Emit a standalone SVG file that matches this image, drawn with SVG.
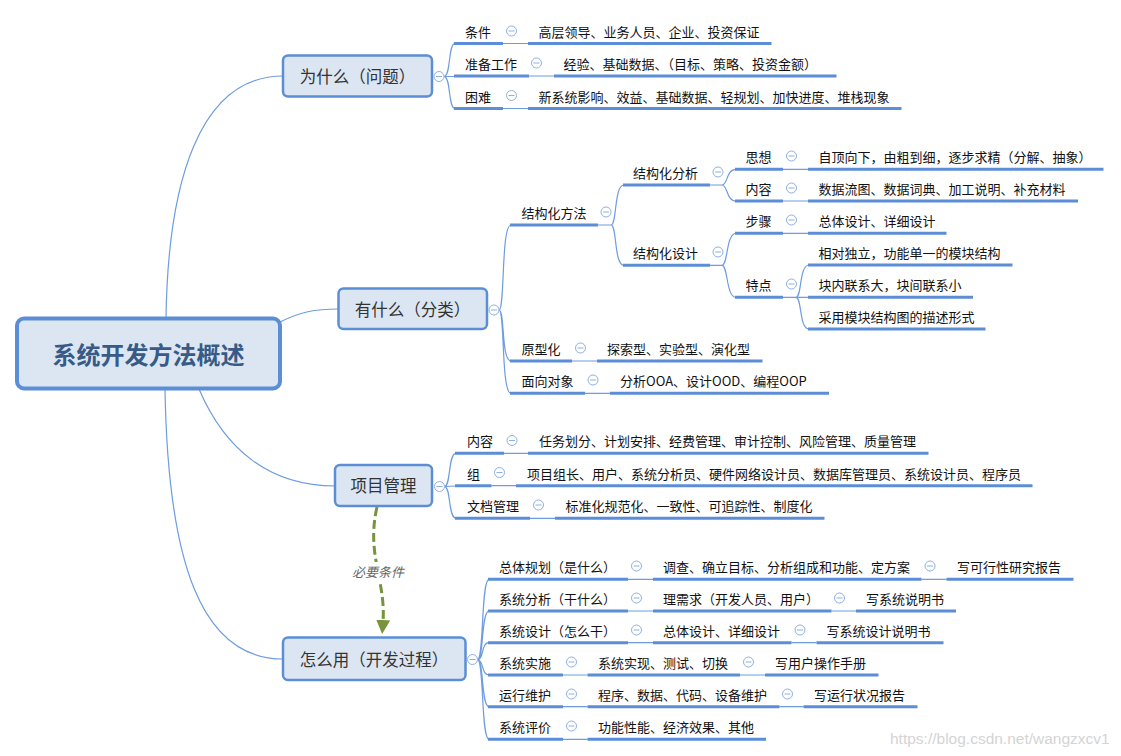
<svg xmlns="http://www.w3.org/2000/svg" width="1121" height="756" viewBox="0 0 1121 756">
<style>
.ul{stroke:#5b8ed6;stroke-width:3;fill:none}
.cn{stroke:#6d9ce0;stroke-width:1.2;fill:none}
text{font-family:"Noto Sans CJK SC","Noto Sans",sans-serif;dominant-baseline:central}
.t{font-size:13px;fill:#111}
.l1 rect{fill:#dce6f2;stroke:#5b8ed6;stroke-width:2.5}
.l1 text{font-size:16.5px;fill:#333;text-anchor:middle}
text.wm{font-family:"Liberation Sans",Arial,sans-serif;font-size:15.5px;fill:#d4d4d4}
</style>
<defs>
<g id="m"><circle r="5" fill="#fff" stroke="#8fb0e0" stroke-width="1"/><path d="M-3,0H3" stroke="#8fb0e0" stroke-width="1"/></g>
<marker id="ah" viewBox="0 0 14 14" refX="2" refY="7" markerWidth="14" markerHeight="14" markerUnits="userSpaceOnUse" orient="auto"><path d="M0,0L14,7L0,14z" fill="#77933c"/></marker>
<mask id="lm" maskUnits="userSpaceOnUse" x="0" y="0" width="1121" height="756"><rect width="1121" height="756" fill="#fff"/><rect x="345" y="562" width="66" height="20" fill="#000"/></mask>
</defs>
<rect width="1121" height="756" fill="#fff"/>
<g id="connectors">
<path class="cn" d="M166,318 C168,180 200,76 283,76"/>
<path class="cn" d="M280,322 C300,312 315,309 338,309"/>
<path class="cn" d="M199,389 C225,450 270,486 335,486"/>
<path class="cn" d="M165,390 C168,560 200,659 283,659"/>
<path class="cn" d="M444,76.5 C451,76.5 448,43.5 455,43.5 M444,76.5 L455,76.5 M444,76.5 C451,76.5 448,108.5 455,108.5"/>
<path class="cn" d="M503,43.5H528 M529,76H554 M503,108.5H528"/>
<path class="cn" d="M499,310 C505,310 501,225 511,225 M499,310 C505,310 501,361 511,361 M499,310 C505,310 501,393.3 511,393.3"/>
<path class="cn" d="M598,225H611 C617,225 614,185 624,185 M611,225 C617,225 614,265.3 624,265.3"/>
<path class="cn" d="M710,185H722 C728,185 726,169.3 736,169.3 M722,185 C728,185 726,201 736,201"/>
<path class="cn" d="M710,265.3H722 C728,265.3 726,233.3 736,233.3 M722,265.3 C728,265.3 726,297.3 736,297.3"/>
<path class="cn" d="M783,169.3H808 M783,201H808 M783,233.3H808"/>
<path class="cn" d="M783,297.3H809 M796,297.3 C802,297.3 799,265 809,265 M796,297.3 C802,297.3 799,329 809,329"/>
<path class="cn" d="M572,361H597 M585,393.3H610"/>
<path class="cn" d="M444.5,486.5 C451,486.5 448,453.3 456,453.3 M444.5,486.5 L456,486 M444.5,486.5 C451,486.5 448,518.3 456,518.3"/>
<path class="cn" d="M504,453.3H528 M491.5,485.7H516 M530,518.3H555"/>
<path class="cn" d="M477.5,659.5 C484,659.5 481,579.3 489,579.3 M477.5,659.5 C484,659.5 481,611 489,611 M477.5,659.5 C484,659.5 481,642.7 489,642.7 M477.5,659.5 C484,659.5 481,675 489,675 M477.5,659.5 C484,659.5 481,706.7 489,706.7 M477.5,659.5 C484,659.5 481,739.3 489,739.3"/>
<path class="cn" d="M628,579.3H653 M921.5,579.3H946.5 M628,611H653 M831.5,611H856 M628,642.7H653 M791.5,642.7H816.5 M563,675H587.5 M740,675H765 M563,706.7H587.5 M779.5,706.7H803.5 M563,739.3H587.5"/>
<path d="M377,507 C366,555 386,580 383,622" fill="none" stroke="#77933c" stroke-width="3" stroke-dasharray="9 4" mask="url(#lm)" marker-end="url(#ah)"/>
<text x="378" y="571.5" font-size="13" font-style="italic" fill="#666" text-anchor="middle">必要条件</text>
</g>
<g id="root"><rect x="17" y="318.5" width="263" height="70" rx="7" fill="#dce6f2" stroke="#5b8ed6" stroke-width="4"/><text x="148.5" y="353.5" font-size="24" font-weight="bold" fill="#375a87" text-anchor="middle">系统开发方法概述</text></g>
<g id="n-why" class="l1"><rect x="283" y="55.5" width="149" height="41" rx="5"/><text x="357.5" y="75.5">为什么（问题）</text><use href="#m" x="439" y="76.5"/></g>
<g id="n-what" class="l1"><rect x="338.5" y="288.5" width="148.5" height="40.5" rx="5"/><text x="412.5" y="308.5">有什么（分类）</text><use href="#m" x="494" y="310"/></g>
<g id="n-pm" class="l1"><rect x="335" y="465" width="97" height="41" rx="5"/><text x="383.5" y="485">项目管理</text><use href="#m" x="439.5" y="486.5"/></g>
<g id="n-how" class="l1"><rect x="283" y="637.5" width="182.5" height="42.5" rx="5"/><text x="374" y="658.5">怎么用（开发过程）</text><use href="#m" x="472.5" y="659.5"/></g>

<g id="n1a"><path class="ul" d="M454,43.5H503"/><text class="t" x="465" y="31">条件</text><use href="#m" x="511.5" y="31"/></g>
<g id="n1a1"><path class="ul" d="M528,43.5H771.5"/><text class="t" x="538.5" y="31">高层领导、业务人员、企业、投资保证</text></g>
<g id="n1b"><path class="ul" d="M454,76H529"/><text class="t" x="465" y="63.5">准备工作</text><use href="#m" x="536.5" y="63"/></g>
<g id="n1b1"><path class="ul" d="M554,76H836.5"/><text class="t" x="563.5" y="63.5">经验、基础数据、（目标、策略、投资金额）</text></g>
<g id="n1c"><path class="ul" d="M454,108.5H503"/><text class="t" x="465" y="96">困难</text><use href="#m" x="511.5" y="95.5"/></g>
<g id="n1c1"><path class="ul" d="M528,108.5H901.5"/><text class="t" x="538.5" y="96">新系统影响、效益、基础数据、轻规划、加快进度、堆栈现象</text></g>

<g id="n2a"><path class="ul" d="M510,225H598"/><text class="t" x="521.5" y="212.5">结构化方法</text><use href="#m" x="606" y="212"/></g>
<g id="n2a1"><path class="ul" d="M623,185H710"/><text class="t" x="633" y="172.5">结构化分析</text><use href="#m" x="718" y="172"/></g>
<g id="n2a1a"><path class="ul" d="M735,169.3H783"/><text class="t" x="745.5" y="156.5">思想</text><use href="#m" x="791.5" y="156"/></g>
<g id="n2a1a1"><path class="ul" d="M808,169.3H1103.5"/><text class="t" x="818.5" y="156.5">自顶向下，由粗到细，逐步求精（分解、抽象）</text></g>
<g id="n2a1b"><path class="ul" d="M735,201H783"/><text class="t" x="745.5" y="188.5">内容</text><use href="#m" x="791.5" y="188"/></g>
<g id="n2a1b1"><path class="ul" d="M808,201H1078"/><text class="t" x="818.5" y="188.5">数据流图、数据词典、加工说明、补充材料</text></g>
<g id="n2a2"><path class="ul" d="M623,265.3H710"/><text class="t" x="633" y="252.5">结构化设计</text><use href="#m" x="718" y="252"/></g>
<g id="n2a2a"><path class="ul" d="M735,233.3H783"/><text class="t" x="745.5" y="220.5">步骤</text><use href="#m" x="791.5" y="220"/></g>
<g id="n2a2a1"><path class="ul" d="M808,233.3H946.5"/><text class="t" x="818.5" y="220.5">总体设计、详细设计</text></g>
<g id="n2a2b"><path class="ul" d="M735,297.3H783"/><text class="t" x="745.5" y="284.5">特点</text><use href="#m" x="791.5" y="284"/></g>
<g id="n2a2b1"><path class="ul" d="M808,265H1012.5"/><text class="t" x="818.5" y="252.5">相对独立，功能单一的模块结构</text></g>
<g id="n2a2b2"><path class="ul" d="M808,297.3H973"/><text class="t" x="818.5" y="284.5">块内联系大，块间联系小</text></g>
<g id="n2a2b3"><path class="ul" d="M808,329H985.5"/><text class="t" x="818.5" y="316.5">采用模块结构图的描述形式</text></g>
<g id="n2b"><path class="ul" d="M510,361H572"/><text class="t" x="521.5" y="348.5">原型化</text><use href="#m" x="580.5" y="348"/></g>
<g id="n2b1"><path class="ul" d="M597,361H762.5"/><text class="t" x="607" y="348.5">探索型、实验型、演化型</text></g>
<g id="n2c"><path class="ul" d="M510,393.3H585"/><text class="t" x="521.5" y="380.5">面向对象</text><use href="#m" x="593" y="380"/></g>
<g id="n2c1"><path class="ul" d="M610,393.3H829"/><text class="t" x="620" y="380.5">分析OOA、设计OOD、编程OOP</text></g>

<g id="n3a"><path class="ul" d="M455,453.3H504"/><text class="t" x="467" y="440.5">内容</text><use href="#m" x="512" y="440.5"/></g>
<g id="n3a1"><path class="ul" d="M528,453.3H928.5"/><text class="t" x="539" y="440.5">任务划分、计划安排、经费管理、审计控制、风险管理、质量管理</text></g>
<g id="n3b"><path class="ul" d="M455,485.7H491.5"/><text class="t" x="467" y="473">组</text><use href="#m" x="499.5" y="472.5"/></g>
<g id="n3b1"><path class="ul" d="M516,485.7H1032.5"/><text class="t" x="527" y="473">项目组长、用户、系统分析员、硬件网络设计员、数据库管理员、系统设计员、程序员</text></g>
<g id="n3c"><path class="ul" d="M455,518.3H530"/><text class="t" x="467" y="505.5">文档管理</text><use href="#m" x="538.5" y="505"/></g>
<g id="n3c1"><path class="ul" d="M555,518.3H824.5"/><text class="t" x="565.5" y="505.5">标准化规范化、一致性、可追踪性、制度化</text></g>

<g id="n4a"><path class="ul" d="M488,579.3H628"/><text class="t" x="499" y="566.5">总体规划（是什么）</text><use href="#m" x="636.5" y="566"/></g>
<g id="n4a1"><path class="ul" d="M653,579.3H921.5"/><text class="t" x="663" y="566.5">调查、确立目标、分析组成和功能、定方案</text><use href="#m" x="930" y="566"/></g>
<g id="n4a1a"><path class="ul" d="M946.5,579.3H1073.5"/><text class="t" x="957" y="566.5">写可行性研究报告</text></g>
<g id="n4b"><path class="ul" d="M488,611H628"/><text class="t" x="499" y="598.5">系统分析（干什么）</text><use href="#m" x="636.5" y="598"/></g>
<g id="n4b1"><path class="ul" d="M653,611H831.5"/><text class="t" x="663" y="598.5">理需求（开发人员、用户）</text><use href="#m" x="839.5" y="598"/></g>
<g id="n4b1a"><path class="ul" d="M856,611H956"/><text class="t" x="866" y="598.5">写系统说明书</text></g>
<g id="n4c"><path class="ul" d="M488,642.7H628"/><text class="t" x="499" y="630">系统设计（怎么干）</text><use href="#m" x="636.5" y="630"/></g>
<g id="n4c1"><path class="ul" d="M653,642.7H791.5"/><text class="t" x="663" y="630">总体设计、详细设计</text><use href="#m" x="800" y="630"/></g>
<g id="n4c1a"><path class="ul" d="M816.5,642.7H943.5"/><text class="t" x="826.5" y="630">写系统设计说明书</text></g>
<g id="n4d"><path class="ul" d="M488,675H563"/><text class="t" x="499" y="662.5">系统实施</text><use href="#m" x="571.5" y="662"/></g>
<g id="n4d1"><path class="ul" d="M587.5,675H740"/><text class="t" x="598" y="662.5">系统实现、测试、切换</text><use href="#m" x="748.5" y="662"/></g>
<g id="n4d1a"><path class="ul" d="M765,675H878.5"/><text class="t" x="775" y="662.5">写用户操作手册</text></g>
<g id="n4e"><path class="ul" d="M488,706.7H563"/><text class="t" x="499" y="694">运行维护</text><use href="#m" x="571.5" y="694"/></g>
<g id="n4e1"><path class="ul" d="M587.5,706.7H779.5"/><text class="t" x="598" y="694">程序、数据、代码、设备维护</text><use href="#m" x="787.5" y="694"/></g>
<g id="n4e1a"><path class="ul" d="M803.5,706.7H917.5"/><text class="t" x="814" y="694">写运行状况报告</text></g>
<g id="n4f"><path class="ul" d="M488,739.3H563"/><text class="t" x="499" y="726.5">系统评价</text><use href="#m" x="571.5" y="726"/></g>
<g id="n4f1"><path class="ul" d="M587.5,739.3H766"/><text class="t" x="598" y="726.5">功能性能、经济效果、其他</text></g>

<text class="wm" x="890" y="738.5">https://blog.csdn.net/wangzxcv1</text>
</svg>
